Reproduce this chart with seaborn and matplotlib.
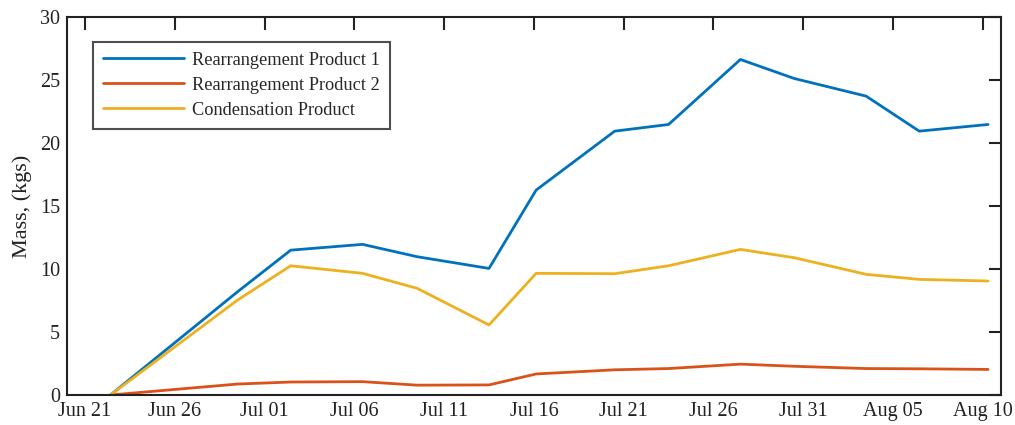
import matplotlib
matplotlib.use("Agg")
import matplotlib.pyplot as plt
import matplotlib.dates as mdates
import numpy as np
import pandas as pd
import seaborn as sns

# Sampling times
sample_times = [
    "2020-06-22 10:00", "2020-06-29 12:00", "2020-07-02 11:00", "2020-07-06 11:00",
    "2020-07-09 12:00", "2020-07-13 12:00", "2020-07-16 03:00", "2020-07-20 12:00",
    "2020-07-23 12:00", "2020-07-27 12:00", "2020-07-30 12:00", "2020-08-03 12:00",
    "2020-08-06 11:00", "2020-08-10 07:00",
]

# Accumulated mass per product (kg)
rearrangement_1 = [0, 8.2, 11.5, 11.96, 10.98, 10.05, 16.27, 20.95, 21.48, 26.64, 25.13, 23.73, 20.95, 21.48]
rearrangement_2 = [0, 0.87, 1.03, 1.06, 0.78, 0.80, 1.67, 2.00, 2.10, 2.45, 2.28, 2.10, 2.08, 2.03]
condensation = [0, 7.54, 10.26, 9.66, 8.47, 5.56, 9.66, 9.63, 10.26, 11.56, 10.90, 9.58, 9.18, 9.05]

series_names = ["Rearrangement Product 1", "Rearrangement Product 2", "Condensation Product"]
series_colors = ["#0072BD", "#D95319", "#EDB120"]

tick_start = "2020-06-21"
tick_end = "2020-08-10"
x_min = "2020-06-20"
x_max = "2020-08-11"

sns.set_theme(style="white")
plt.rcParams["font.family"] = ["Liberation Serif", "DejaVu Serif"]
plt.rcParams["axes.linewidth"] = 1.5

times = pd.to_datetime(sample_times)
frames = []
for name, vals in zip(series_names, [rearrangement_1, rearrangement_2, condensation]):
    frames.append(pd.DataFrame({"time": times, "mass": vals, "product": name}))
df = pd.concat(frames, ignore_index=True)

fig = plt.figure(figsize=(10.15, 4.25), dpi=100)
ax = fig.add_axes([0.066, 0.0706, 0.920, 0.889])

sns.lineplot(data=df, x="time", y="mass", hue="product", hue_order=series_names,
             palette=series_colors, linewidth=2.0, ax=ax, estimator=None, sort=False)

ax.set_xlim(pd.Timestamp(x_min), pd.Timestamp(x_max))
ax.set_ylim(0, 30)
ax.set_yticks(np.arange(0, 31, 5))
ax.set_xticks(pd.date_range(tick_start, tick_end, freq="5D"))
ax.xaxis.set_major_formatter(mdates.DateFormatter("%b %d"))

ax.tick_params(axis="both", which="major", direction="in", length=9, width=1.5,
               top=True, right=True, labelsize=14.5, colors="#222222", pad=5)
for sp in ax.spines.values():
    sp.set_color("#222222")
    sp.set_visible(True)

ax.set_xlabel("")
ax.set_ylabel("Mass, (kgs)", fontsize=16, color="#222222", labelpad=6)

leg = ax.legend(loc="upper left", bbox_to_anchor=(0.028, 0.935), fontsize=13.2,
                frameon=True, fancybox=False, handlelength=4.4, handletextpad=0.45,
                borderpad=0.55, labelspacing=0.43, borderaxespad=0)
leg.get_frame().set_edgecolor("#222222")
leg.get_frame().set_linewidth(1.5)
for line in leg.get_lines():
    line.set_linewidth(2.0)

fig.savefig("out.png", dpi=100)
